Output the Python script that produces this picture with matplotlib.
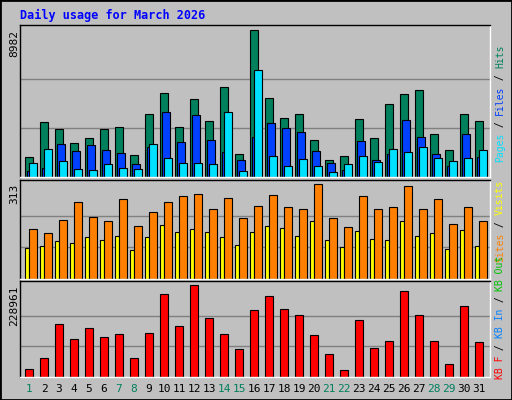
import matplotlib
matplotlib.use("Agg")
import matplotlib.pyplot as plt
import numpy as np

days = list(range(1, 32))
weekend = [1, 7, 8, 14, 15, 21, 22, 28, 29]
hits = [1225,3368,2939,2082,2388,2939,3062,1347,3858,5144,3062,4776,3429,5511,1408,8982,
        4838,3613,3858,2266,1041,1286,3552,2388,4470,5082,5328,2633,1653,3858,3429]
files = [367,551,2021,1592,1959,1653,1470,796,1837,3980,2143,3796,2266,1531,1041,2449,
         3307,3000,2755,1592,857,429,2204,1041,1408,3490,2449,1408,674,2633,1225]
pages = [857,1714,980,490,429,796,551,490,2021,1163,857,857,796,3980,367,6490,
         1286,674,1102,674,306,796,1286,918,1714,1531,1837,1163,980,1163,1653]
sites = [164,150,194,252,204,191,263,174,222,252,273,279,229,266,200,241,
         275,238,232,313,200,171,273,232,236,306,232,263,181,236,191]
visits = [102,109,126,119,137,130,143,96,137,178,154,164,154,137,113,154,
          174,167,143,191,130,106,157,133,130,191,140,150,99,160,109]
kbytes = [19910,47287,131906,94574,121951,99552,107018,47287,109507,206570,126929,228961,
          146839,107018,69686,166750,201593,169238,154306,104530,57242,17422,141862,72175,
          89597,214037,154306,89597,32354,176705,87108]

W, H = 512, 400
fig = plt.figure(figsize=(W/100, H/100), dpi=100)
fig.patch.set_facecolor('#C0C0C0')
mono = 'DejaVu Sans Mono'

def ax_at(x0, y0, x1, y1):
    ax = fig.add_axes([x0/W, 1-y1/H, (x1-x0)/W, (y1-y0)/H])
    ax.set_facecolor('#C0C0C0')
    for s in ax.spines.values():
        s.set_color('black'); s.set_linewidth(1)
    ax.spines['right'].set_color('white'); ax.spines['bottom'].set_color('white')
    ax.set_xticks([]); ax.set_yticks([])
    ax.set_xlim(-1/3, 31.0)
    return ax

x = np.arange(31)
ec = dict(edgecolor='black', linewidth=0.8)

a1 = ax_at(20, 25, 490, 177)
m = max(hits)
for f in (1/3, 2/3):
    a1.axhline(m*f, color='#808080', lw=1, zorder=0)
a1.bar(x, hits, width=0.51, align='edge', color='#00805C', **ec)
a1.bar(x+0.13, files, width=0.51, align='edge', color='#0040FF', **ec)
a1.bar(x+0.29, pages, width=0.49, align='edge', color='#00E0FF', **ec)
a1.set_ylim(0, m/0.97)

a2 = ax_at(20, 180, 490, 279)
m = max(sites)
for f in (1/3, 2/3):
    a2.axhline(m*f, color='#808080', lw=1, zorder=0)
a2.bar(x, visits, width=0.29, align='edge', color='#FFFF00', **ec)
a2.bar(x+0.27, sites, width=0.51, align='edge', color='#FF8000', **ec)
a2.set_ylim(0, m/0.96)

a3 = ax_at(20, 281, 490, 377)
m = max(kbytes)
for f in (1/3, 2/3):
    a3.axhline(m*f, color='#808080', lw=1, zorder=0)
a3.bar(x, kbytes, width=0.51, align='edge', color='#FF0000', **ec)
a3.set_ylim(0, m/0.96)

fig.text(20/W, 1-15/H, 'Daily usage for March 2026', color='#0000FF', family=mono,
         weight='bold', fontsize=8.5, va='center', ha='left')
for txt, y in (('8982', 30), ('313', 184), ('228961', 285)):
    fig.text(14/W, 1-y/H, txt, rotation=90, family=mono, fontsize=8, ha='center', va='top')

for i, d in enumerate(days):
    fig.text((25 + 15*i + 4)/W, 1-389/H, str(d), family=mono, fontsize=8, ha='center',
             va='center', color='#00805C' if d in weekend else 'black')

renderer = fig.canvas.get_renderer()

def vlabel(pieces, ybottom, fs=7):
    y = ybottom
    for t, c in pieces:
        tx = fig.text(500/W, 1-y/H, t, rotation=90, family=mono, fontsize=fs,
                      color=c, ha='center', va='bottom')
        bb = tx.get_window_extent(renderer)
        y -= bb.height

vlabel([('Pages', '#00E0FF'), (' / ', 'black'), ('Files', '#0040FF'), (' / ', 'black'), ('Hits', '#00805C')], 162)
vlabel([('Sites', '#FF8000'), (' / ', 'black'), ('Visits', '#FFFF00')], 262)
vlabel([('KB F', '#FF0000'), (' / ', 'black'), ('KB In', '#0080FF'), (' / ', 'black'), ('KB Out', '#00C000')], 379)

fig.add_artist(plt.Rectangle((0, 0), 1, 1, transform=fig.transFigure, fill=False,
                             edgecolor='black', lw=2))
fig.savefig('out.png', dpi=100, facecolor=fig.get_facecolor())
